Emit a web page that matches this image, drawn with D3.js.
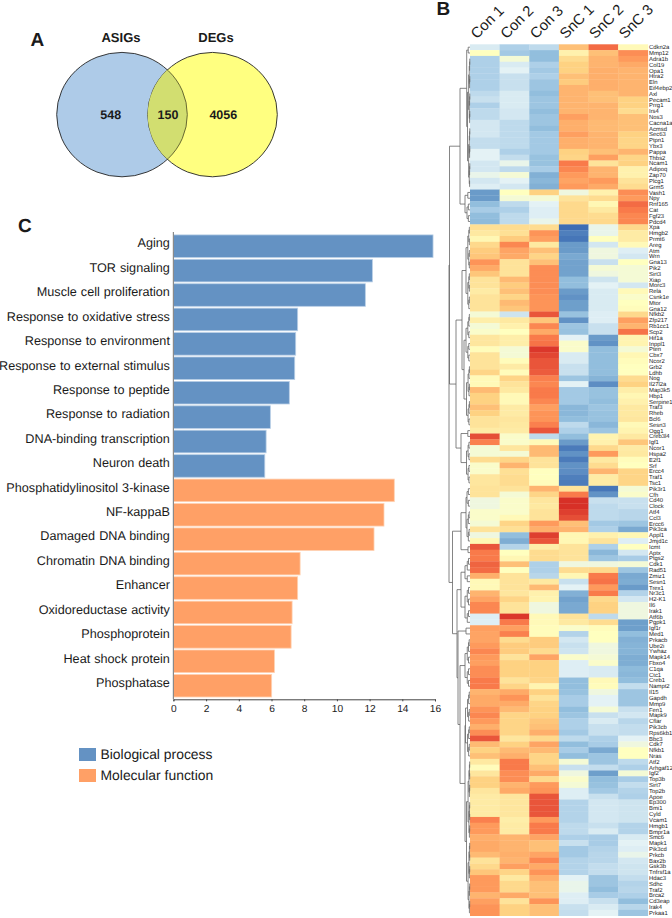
<!DOCTYPE html>
<html><head><meta charset="utf-8">
<script src="https://cdn.jsdelivr.net/npm/d3@7"></script>
<style>html,body{margin:0;padding:0;background:#fff}svg{display:block}text{font-family:"Liberation Sans",Arial,sans-serif;fill:#1a1a1a;text-rendering:geometricPrecision}</style>
</head><body><svg id="c" width="672" height="918"></svg>
<script>
// ---- Panel A
const vennSets = ["ASIGs","DEGs"];
const vennCounts = ["548","150","4056"];
// ---- Panel C
const termsBP = ["Aging","TOR signaling","Muscle cell proliferation","Response to oxidative stress","Response to environment","Response to external stimulus","Response to peptide","Response to radiation","DNA-binding transcription","Neuron death"];
const valuesBP = [15.88,12.17,11.74,7.60,7.48,7.42,7.09,5.93,5.67,5.59];
const termsMF = ["Phosphatidylinositol 3-kinase","NF-kappaB","Damaged DNA binding","Chromatin DNA binding","Enhancer","Oxidoreductase activity","Phosphoprotein","Heat shock protein","Phosphatase"];
const valuesMF = [13.51,12.88,12.27,7.75,7.60,7.26,7.20,6.18,6.01];
const legendLabels = ["Biological process","Molecular function"];
const xTicks = [0,2,4,6,8,10,12,14,16];
// ---- Panel B
const samples = ["Con 1","Con 2","Con 3","SnC 1","SnC 2","SnC 3"];
const genes = ["Cdkn2a","Mmp12","Adra1b","Col19","Opa1","Htra2","Eln","Eif4ebp2","Axl","Pecam1","Prrg1","Irs4","Nos3","Cacna1a","Acmsd","Sec63","Ptpn1","Ybx3","Pappa","Thbs2","Ncam1","Adipoq","Zap70","Plcg1","Grm5","Vash1","Npy","Rnf165","Cat","Fgf23","Pdcd4",
"Xpa","Hmgb2","Prmt6","Areg","Atm","Wrn","Gna13","Pik2","Sirt3","Xiap","Morc3","Rela","Csnk1e","Mtor","Gna12","Nfkb2","Zfp217","Rb1cc1","Scp2","Hif1a","Inppl1","Pten","Cbx7","Ncor2","Grb2","Ldhb","Nog","Il27l2a","Map3k5","Hbp1","Serpine1","Traf3","Rheb","Bcl6","Sesn3","Ogg1","Creb3l4","Igf1","Ncor1","Hspa2",
"E2f1","Srf","Ercc4","Traf1","Tsc1","Pik3r1","Cfh","Cd40","Clock","Atf4","Ccl3","Ercc6","Pik3ca","Appl1","Jmjd1c","Icmt","Aptx","Ptgs2","Cdk1","Rad51","Zmiz1","Sesn1","Trex1","Nr3c1","H2-K1","Il6","Irak1","Atf6b","Pgpk1","Igf1r","Med1","Prkacb","Ube2i","Ywhaz","Mapk14","Fbxo4","C1qa","Ctc1","Creb1",
"Nampt2","Il15","Gapdh","Mmp9","Fen1","Mapk9","Cflar","Pik3cb","Rps6kb1","Bbc3","Cdk7","Nfkb1","Nras","Atf2","Arhgaf12","Igf2","Top3b","Sirt7","Top2b","Apoe","Ep300","Bmi1","Cyld","Vcam1","Hmgb1","Bmpr1a","Smc6","Mapk1","Pik3cd","Prkcb","Bax2b","Gsk3b","Tnfrsf1a","Hdac3","Sdhc","Traf2","Brca2","Cd3eap","Irak4","Prkaa1"];
const expression = [
[-0.7,-1.5,-1.2,1.8,3.2,0.2],[0,-1.7,-2,0.5,1.8,2.7],[-1.5,-0.2,-2,1.2,2,2.5],[-1.5,-0.7,-1.5,1.5,2,2.2],[-1.5,-0.5,-1.7,1.5,2.1,2],[-1.5,-1,-1.5,1.8,2.1,2],[-1.5,-1,-1.8,1.6,2.1,2],[-1.5,-1,-1.8,2,2.1,2],[-1.2,-0.7,-2,2,1.8,2],[-1,-0.7,-1.8,2,1.8,1.5],[-1.5,-0.7,-1.8,2,2,1.5],[-1.2,-0.8,-2,2,2,1.2],[-1.2,-0.8,-1.8,2.4,2,1.8],[-0.8,-1.2,-1.8,2.1,1.9,1.8],[-0.8,-1.2,-2,2.1,1.9,1.8],[-0.8,-1.2,-1.7,2.4,2,1.5],[-1.1,-1.2,-1.7,2.1,2,1.4],[-1.1,-1.2,-1.7,2.1,2,1.4],[-0.5,-1.5,-1.7,1.5,1.8,2],[-0.5,-1.1,-1.9,1.4,2.4,1.4],[-0.8,-0.4,-1.9,3,1,1.5],[-0.8,-1.2,-1.6,2.8,2,0.5],[-0.4,-0.2,-2.4,2.5,2,0.5],[-0.8,-0.5,-2.2,2.3,2.5,1],[-0.6,-0.8,-2.4,2.5,2.2,1.2],[-3,0,1.5,-0.3,0.5,2.7],[-3,-0.2,-0.2,1,1.2,2.5],[-2,-1.2,-0.5,1.3,0.3,3.2],[-1.6,-1.5,-0.6,1.3,0.8,3],[-2,-1.2,-0.6,1.3,1.2,2.8],[-2.1,-1.2,-0.4,1.3,1.3,2.8],
[1.1,1.2,1.2,-4,-0.4,1.3],[0.8,1.1,2.6,-3.6,-0.4,0.7],[0.3,1.6,2.4,-3.8,0,0.7],[1.3,2.8,0.8,-3,-0.8,0.2],[1.6,2.3,1.8,-3,-0.3,-0.6],[1.7,2.2,1.4,-2.6,-0.3,-0.8],[2.6,1,1.8,-2.8,-1,0],[2.2,1,2.7,-2.8,-0.2,-0.2],[1.7,1,2.7,-2.8,-0.3,-0.2],[1,1.9,2.7,-2,-0.9,-0.2],[1,1.6,2.7,-2,-0.5,-0.8],[0.7,1.8,2.7,-3,-0.7,0.2],[1,1.4,2.6,-3.2,-0.7,-0.1],[1,1.9,2.6,-2.9,-0.7,0],[1,1.7,2.6,-2.9,-0.7,0.1],[-0.2,-0.9,3.5,-1.9,-0.6,1.3],[0.6,0.8,1.7,-3.2,-0.6,2.4],[-0.2,0.5,2.8,-1.8,-1,2],[-0.1,0,2.2,-1.9,-1,3.1],[0.9,0.6,3,-0.5,-3,0.4],[0.9,0.6,3.1,-0.1,-3.2,0.4],[0.1,-0.2,3.9,-0.1,-2,-0.2],[1,-0.2,3.7,-0.7,-2,0.3],[1,0.1,3.5,-0.7,-2,0.1],[1,0.7,3.5,-1,-2,0],[1.4,0.1,3.4,-1,-2,0],[0.2,1.4,2.9,-1.8,-2.3,1.2],[0.2,1,2.8,-0.5,-3.3,1.5],[1.9,0.8,3,-1.7,-1.9,0.6],[1.5,0.2,3,-1.7,-1.9,0.3],[1.5,0.2,2.8,-1.7,-2,0.5],[1.8,0.7,2.4,-2.2,-1.8,0.8],[1.5,0.7,2.6,-2.2,-1.9,0.8],[1,0.9,2.6,-2,-1.9,0.9],[1,0.8,2.9,-1.2,-2.2,0.2],[0.7,0.7,3.5,-1.5,-1.8,0.4],[3.6,-0.1,-1.2,-2,0.4,0.8],[2.9,-0.1,0.2,-3,0.5,1.7],[-0.2,0.9,1.9,-3.7,1.3,0.7],[-0.2,-0.2,1.9,-3.2,2.5,0.8],
[1.2,1.4,1,-3.7,0.8,0.1],[-0.1,2,1,-3.2,1.2,0],[-0.1,1.1,0,-3.3,2,1.4],[0.9,1.2,0,-3.6,0.7,1.4],[0.9,1.2,0.1,-3.7,0.7,1.4],[1,1,2,1,-3.8,-0.2],[1,-0.2,1.4,3,-3.2,-0.1],[-0.3,-0.1,0.9,4,-1,-1],[-0.3,-0.1,0.8,4,-1.2,-1],[-0.1,-0.1,1,3.8,-1.2,-1.3],[-0.1,0.2,1,3.6,-1.2,-1.3],[-0.2,1.4,2.5,1.8,-1.7,-1.8],[1,1.1,2.1,2,-1.5,-2.6],[-0.3,-2,3.8,0.3,0.5,0.3],[0.3,-2.5,3.5,0.3,1,-0.6],[3.5,-1.4,0.6,1,-1.5,0],[3,0,1.2,1,-2.2,-0.8],[3,0.3,1.2,1,-1.8,-1.6],[3.3,1.8,-1.5,-0.3,-0.3,-0.2],[3.2,0,-1.5,1.2,1.3,-1.8],[2.1,1,-1.3,0.3,3,-2.6],[0.2,1,0.8,-1,3.1,-2.5],[0.2,1,1.9,-0.5,2.5,-3],[2,0.9,0.5,-2.4,3,-1.4],[2.3,1.4,0.4,-2.8,1.3,-0.8],[2.8,1,-0.3,-2.6,1.5,-0.3],[2.8,1,-0.3,-2.6,1.5,-0.3],[-0.6,3.9,0.2,1,-1.2,-0.3],[-0.6,3,0.2,0.8,1.2,-2.9],[2.4,2.4,0.1,-0.1,0.1,-2.9],[2.3,2.9,0.1,-1.4,0,-2],[2.3,1.2,1.6,-0.8,0,-2.4],[2.5,1.6,1.6,-1,-0.3,-2.3],[2.8,1.6,1.2,-0.9,-0.3,-2.3],[2.5,1,2.3,-0.1,-0.2,-2.5],[2.4,1.5,1.5,-0.6,-0.1,-2.5],[2.7,1.5,1.5,-0.6,-0.7,-2.1],[2.7,1.5,1.5,-0.6,-0.7,-2.2],[3,1,1.4,-2,0.2,-2],
[3,1.4,0.4,-2,0.1,-1.1],[2,2.2,1.5,-1.9,-0.3,-1.8],[2.2,2.6,1,-1.6,-0.5,-1.8],[2.2,2.2,1.4,-1.6,-0.5,-1.8],[2.6,1.9,1.5,-2,-0.2,-1],[2.8,1.4,1.5,-1.8,-1,-0.8],[2.5,1.4,1.7,-1.5,-0.7,-1.3],[2.1,1.4,1.8,-1.5,-1,-1.1],[2.7,1.4,2.1,-1.7,-1,-1.1],[3.5,0.9,1.3,-1.2,-1.5,-0.5],[1.9,1.5,2.3,-2,-1.6,-0.3],[1.5,1.9,1.9,-1.6,-2.6,0],[1.8,2.1,1.4,-2,-1.8,0],[0.8,3,1.4,-0.2,-1.8,-1.2],[0.1,3,1.8,-1,-1.1,-1.5],[0.9,2.7,2.2,-0.3,-2.9,-0.2],[1.5,2.7,1.3,-0.1,-2,-1.6],[1.5,2,2.5,-0.2,-1.9,-1.1],[0.9,2.2,2.6,-0.6,-1.7,-1.4],[0.7,0.9,3.5,-0.6,-1,-1.5],[0.7,0.9,3.5,-1.4,-0.8,-0.9],[0.7,0.9,3.5,-1.4,-0.8,-0.9],[0.7,0.9,3.5,-1.4,-0.8,-0.9],[2.9,0.6,2.5,-1.4,-0.8,-0.9],[2.5,0.7,3,-1.2,-1,-1.4],[2.5,0.7,3,-1.2,-0.7,-1.4],[2.1,2,2.3,-1.5,-1.6,-0.7],[2.2,2,1.8,-1,-1.6,-0.5],[2.2,2,1.8,-1.7,-1.4,-0.6],[1.9,2.1,2.3,-1.7,-1.3,-0.4],[1,2,2.8,-1.4,-1.3,-0.8],[1.3,2.4,2.2,-1.4,-1.1,-0.9],[1.7,1.4,2.6,-1.4,-1.1,-0.9],[2.5,0.8,2.1,-0.5,-1.8,-1.1],[2.5,1.3,1.8,-0.4,-1.8,-1.4],[2.5,1.3,1.8,-0.4,-2,-1.3],[2,2.2,1.8,-0.6,-1.6,-1.5],[2.4,1,2.6,-0.6,-1,-2],[2.6,1.5,1.8,-1,-0.7,-1.3],[2.6,1.5,1.8,-1.1,-0.5,-1.8]];
const colorStops = [-4,-3,-2,-1.5,-1,-0.5,0,1,1.5,2,2.5,3,3.5,4];
const colorRamp = ["#3d6db4","#6a9bc9","#92bedd","#aed0e8","#c8e0ee","#e4f2f5","#ffffbf","#fee39a","#fed282","#feb46f","#fe9a5c","#f97a4a","#e9553a","#d73027"];
// dendrogram: [height, child, child]; {r:[a,b],h} is a tight sub-cluster over gene rows a..b
const dendro = [21,
 [20.5,
  [10,[3.3,{r:[0,1],h:1.8},{r:[2,24],h:2.5}],[5,{r:[25,26],h:2.2},{r:[27,30],h:3}]],
  [14,
   [8,{r:[31,45],h:4},[6,{r:[46,54],h:4},{r:[55,65],h:3.5}]],
   [9,{r:[66,67],h:2.2},{r:[68,75],h:3.5}]]],
 [17.5,
  [9,[4,{r:[76,79],h:3},{r:[80,85],h:3}],{r:[86,87],h:2}],
  [13,
   [9,{r:[88,92],h:5},{r:[93,99],h:5}],
   [12,{r:[100,101],h:4},[10,{r:[102,110],h:5},[5,{r:[111,122],h:4.5},{r:[123,149],h:3.5}]]]]]];

const svg = d3.select("#c");
const blue="#6492c3", orange="#ffa066";

// Panel letters
[["A",30.5,46],["B",436.5,14.5],["C",18,232]].forEach(([t,x,y])=>svg.append("text").attr("x",x).attr("y",y).attr("font-size",19).attr("font-weight","bold").attr("fill","#111").text(t));

// ---- Venn
const venn = svg.append("g");
const vx = d3.scaleLinear().domain([0,1]).range([122,212.5]);
const defs = svg.append("defs");
defs.append("clipPath").attr("id","vc").append("ellipse").attr("cx",vx(1)).attr("cy",114.6).attr("rx",64.8).attr("ry",62.2);
const vFill=["#aecbe8","#ffff80"];
vennSets.forEach((s,i)=>venn.append("ellipse").attr("cx",vx(i)).attr("cy",114.6).attr("rx",i?64.8:65.3).attr("ry",62.2).attr("fill",vFill[i]).attr("stroke","#222").attr("stroke-width",.9));
venn.append("ellipse").attr("cx",vx(0)).attr("cy",114.6).attr("rx",65.3).attr("ry",62.2).attr("fill","#d2de70").attr("stroke","#5b5b2a").attr("stroke-width",.9).attr("clip-path","url(#vc)");
[121,216].forEach((x,i)=>venn.append("text").attr("x",x).attr("y",41.8).attr("text-anchor","middle").attr("font-weight","bold").attr("font-size",13).text(vennSets[i]));
[110.8,168,223.3].forEach((x,i)=>venn.append("text").attr("x",x).attr("y",119.3).attr("text-anchor","middle").attr("font-weight","bold").attr("font-size",12.5).text(vennCounts[i]));

// ---- Bars
const terms=termsBP.concat(termsMF), vals=valuesBP.concat(valuesMF);
const x=d3.scaleLinear().domain([0,16]).range([173.4,435]);
const y=d3.scaleBand().domain(terms).range([234.9,697]).paddingInner(.075).paddingOuter(0);
svg.append("g").selectAll("rect").data(terms).join("rect")
 .attr("x",x(0)).attr("y",d=>y(d)).attr("width",(d,i)=>x(vals[i])-x(0)).attr("height",y.bandwidth())
 .attr("fill",(d,i)=>i<termsBP.length?blue:orange).attr("stroke",(d,i)=>i<termsBP.length?"#b9cfe6":"#ffd2b3").attr("stroke-width",.8);
const ay=svg.append("g").attr("transform",`translate(${x(0)},0)`).call(d3.axisLeft(y).tickSize(0).tickPadding(3.5));
ay.select(".domain").attr("d","M0,232V699.3").attr("stroke","#8a8a8a").attr("stroke-width",1.2);
ay.selectAll("text").attr("font-size",12.65).attr("font-family",'"Liberation Sans",Arial,sans-serif').attr("dy","0.1em").attr("fill","#1a1a1a").style("word-spacing","0.5px");
const ax=svg.append("g").attr("transform","translate(0,699.3)").call(d3.axisBottom(x).tickValues(xTicks).tickSize(2).tickPadding(3).tickFormat(d3.format("d")));
ax.select(".domain").attr("stroke","#444").attr("stroke-width",1);
ax.selectAll(".tick line").attr("stroke","#444");
ax.selectAll("text").attr("font-size",10.2).attr("font-family",'"Liberation Sans",Arial,sans-serif').attr("fill","#222");

// Legend
const lg=svg.append("g");
legendLabels.forEach((t,i)=>{
 const yy=748+i*21;
 lg.append("rect").attr("x",79).attr("y",yy).attr("width",17).attr("height",13).attr("fill",i?orange:blue);
 lg.append("text").attr("x",100.5).attr("y",yy+11).attr("font-size",13.9).text(t);
});

// ---- Heatmap
const hx=d3.scaleBand().domain(samples).range([470,647.8]);
const hy=d3.scaleBand().domain(d3.range(genes.length)).range([44.3,915.7]);
const col=d3.scaleLinear().domain(colorStops).range(colorRamp).clamp(true);
const hm=svg.append("g");
expression.forEach((row,i)=>{
 hm.selectAll(null).data(row).join("rect")
  .attr("x",(d,j)=>hx(samples[j])).attr("y",hy(i)).attr("width",hx.bandwidth()+.3).attr("height",hy.bandwidth()+.3)
  .attr("fill",d=>col(d));
});
svg.append("g").selectAll("text").data(genes).join("text")
 .attr("x",649).attr("y",(d,i)=>hy(i)+hy.bandwidth()/2).attr("dy","0.35em").attr("font-size",5.9).attr("fill","#222").text(d=>d);
samples.forEach((s,j)=>{
 svg.append("text").attr("transform",`translate(${hx(s)+hx.bandwidth()/2-8},39.5) rotate(-45)`)
  .attr("font-size",14.8).attr("fill","#1a1a1a").text(s);
});

// ---- Dendrogram
const dh=d3.scaleLinear().domain([0,21]).range([470,449]);
const dpath=d3.path();
function expand(a,b,h){
 if(a===b) return {y:hy(a)+hy.bandwidth()/2,h:0};
 const m=Math.floor((a+b)/2);
 return join(h,expand(a,m,h*.55),expand(m+1,b,h*.55));
}
function join(h,c1,c2){
 dpath.moveTo(dh(c1.h),c1.y);dpath.lineTo(dh(h),c1.y);dpath.lineTo(dh(h),c2.y);dpath.lineTo(dh(c2.h),c2.y);
 return {y:(c1.y+c2.y)/2,h};
}
function walk(n){
 if(!Array.isArray(n)) return expand(n.r[0],n.r[1],n.h);
 return join(n[0],walk(n[1]),walk(n[2]));
}
walk(dendro);
svg.append("path").attr("d",dpath.toString()).attr("fill","none").attr("stroke","#666").attr("stroke-width",.8);
</script></body></html>
